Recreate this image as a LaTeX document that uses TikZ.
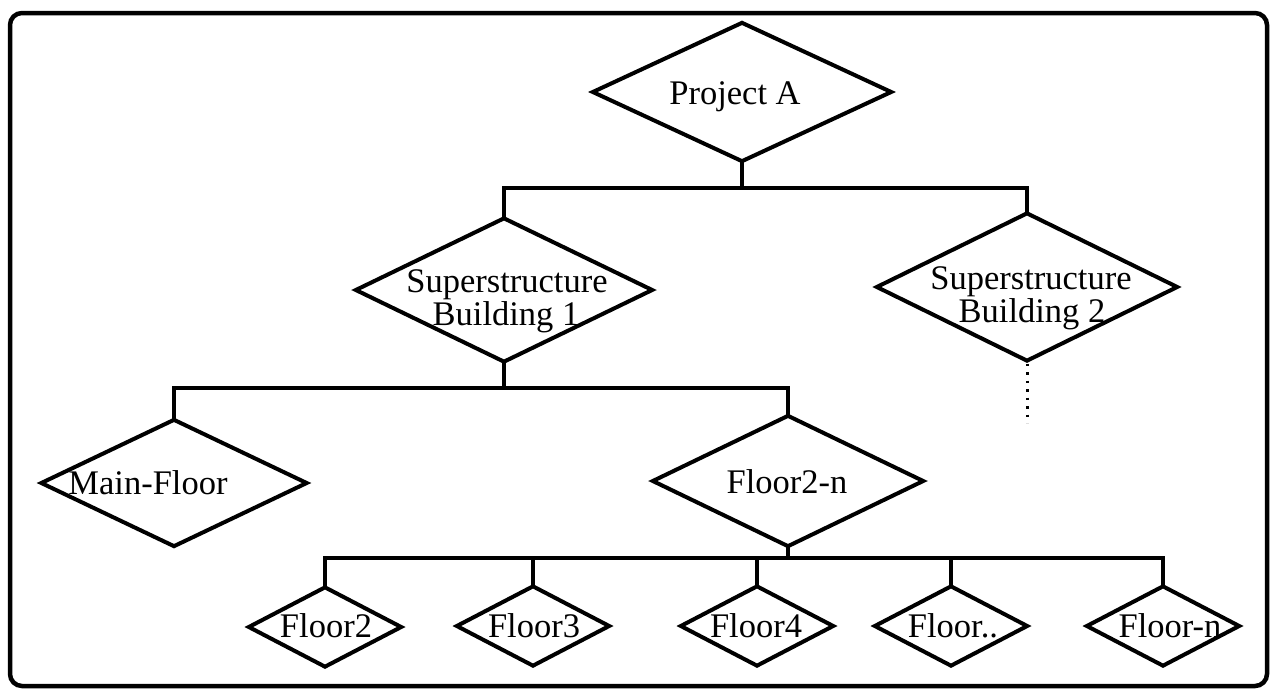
\documentclass[tikz,border=0pt]{standalone}
\usepackage{fontspec}
\setmainfont{Liberation Serif}
\usetikzlibrary{shapes.geometric}

\tikzset{
  dia/.style={diamond, draw=black, line width=4pt, inner sep=0pt, fill=white},
  bigdia/.style={dia},
  smalldia/.style={dia, minimum width=154pt, minimum height=81pt},
  txt/.style={anchor=base, inner sep=0pt, font=\fontsize{34.5}{30}\selectfont, align=center},
  conn/.style={line width=3.5pt, line cap=rect},
  frame/.style={line width=4.5pt, rounded corners=12pt},
}

\begin{document}
\begin{tikzpicture}[x=1pt, y=-1pt]
  \useasboundingbox (0,0) rectangle (1271,696);
  \draw[frame] (10,13) rectangle (1267,686);

  % top level
  \node[bigdia, minimum width=300pt, minimum height=140pt] (pa) at (742,92) {};
  % buildings
  \node[bigdia, minimum width=298pt, minimum height=145pt] (sb1) at (504,290) {};
  \node[bigdia, minimum width=302pt, minimum height=149pt] (sb2) at (1027,287) {};
  % floors of building 1
  \node[bigdia, minimum width=267pt, minimum height=128pt] (mf) at (174,483) {};
  \node[bigdia, minimum width=272pt, minimum height=132pt] (f2n) at (788,481) {};
  % single floors
  \node[smalldia] (fl2) at (325,627) {};
  \node[smalldia] (fl3) at (533,626) {};
  \node[smalldia] (fl4) at (757,626) {};
  \node[smalldia] (flx) at (951,626) {};
  \node[smalldia] (fln) at (1163,626) {};

  % labels
  \node[txt] (paT) at (735,104) {Project A};
  \node[txt] (sb1T) at (507,292) {Superstructure};
  \node[txt] (sb1B) at (506,325) {Building 1};
  \node[txt] (sb2T) at (1031,289) {Superstructure};
  \node[txt] (sb2B) at (1032,322) {Building 2};
  \node[txt] (mfT) at (148,494) {Main-Floor};
  \node[txt] (f2nT) at (787,493) {Floor2-n};
  \node[txt] (fl2T) at (326,637) {Floor2};
  \node[txt] (fl3T) at (534,637) {Floor3};
  \node[txt] (fl4T) at (756,637) {Floor4};
  \node[txt] (flxT) at (953,637) {Floor..};
  \node[txt] (flnT) at (1170,637) {Floor-n};

  % junctions of the tree buses
  \coordinate (j1) at (742,188);
  \coordinate (j2) at (504,388);
  \coordinate (j3) at (788,558);
  \coordinate (sb2end) at (1027,423);

  % connectors
  \draw[conn] (pa.south) -- (j1);
  \draw[conn] (sb1.north) |- (j1) -| (sb2.north);
  \draw[line width=3pt, dash pattern=on 2.5pt off 6pt] (sb2.south) -- (sb2end);

  \draw[conn] (sb1.south) -- (j2);
  \draw[conn] (mf.north) |- (j2) -| (f2n.north);

  \draw[conn] (f2n.south) -- (j3);
  \draw[conn] (fl2.north) |- (j3) -| (fln.north);
  \draw[conn] (fl3.north) -- (fl3.north |- j3);
  \draw[conn] (fl4.north) -- (fl4.north |- j3);
  \draw[conn] (flx.north) -- (flx.north |- j3);
\end{tikzpicture}
\end{document}
